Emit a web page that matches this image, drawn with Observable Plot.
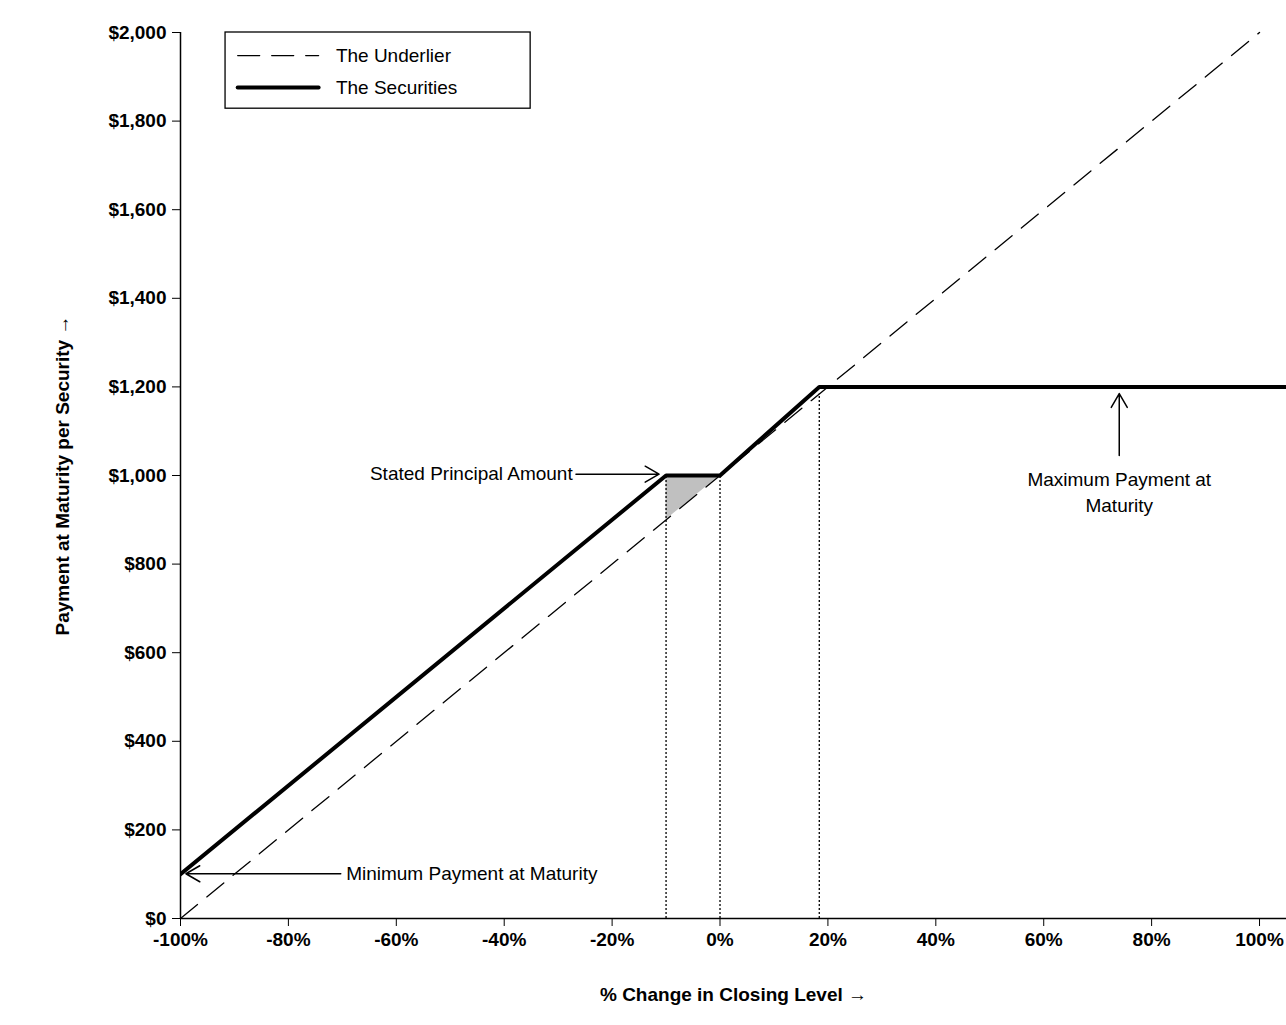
<!DOCTYPE html>
<html><head><meta charset="utf-8">
<script src="https://cdn.jsdelivr.net/npm/d3@7"></script>
<script src="https://cdn.jsdelivr.net/npm/@observablehq/plot@0.6"></script>
<style>body{margin:0;background:#fff}</style>
</head><body><div id="c"></div>
<script>
const xTicks = [-100,-80,-60,-40,-20,0,20,40,60,80,100];
const yTicks = [0,200,400,600,800,1000,1200,1400,1600,1800,2000];
const underlierX = [-100, 100];
const underlierY = [0, 2000];
const securitiesX = [-100, -10, 0, 18.4, 105];
const securitiesY = [100, 1000, 1000, 1200, 1200];
const shadeX = [-10, 0];
const shadeLow = [900, 1000];
const shadeHigh = [1000, 1000];
const dottedX = [-10, 0, 18.4];
const dottedY = [1000, 1000, 1184];

const und = underlierX.map((x,i)=>({x,y:underlierY[i]}));
const sec = securitiesX.map((x,i)=>({x,y:securitiesY[i]}));
const shade = shadeX.map((x,i)=>({x,lo:shadeLow[i],hi:shadeHigh[i]}));
const dots = dottedX.map((x,i)=>({x,y:dottedY[i]}));
const F = "Liberation Sans, Arial, sans-serif";

const chart = Plot.plot({
  width:1286, height:1025,
  marginLeft:180, marginRight:0, marginTop:32, marginBottom:107,
  style:{fontFamily:F, fontSize:"19px", fontWeight:"bold", color:"#000", background:"#fff"},
  x:{domain:[-100,105], ticks:xTicks, tickFormat:d=>d+"%", tickSize:8, tickPadding:6, label:"% Change in Closing Level", labelAnchor:"center", labelOffset:82},
  y:{domain:[0,2000], ticks:yTicks, tickFormat:d=>"$"+d3.format(",")(d), tickSize:8, tickPadding:6, label:"Payment at Maturity per Security", labelAnchor:"center", labelOffset:125},
  marks:[
    Plot.areaY(shade,{x:"x",y1:"lo",y2:"hi",fill:"#c0c0c0"}),
    Plot.ruleX(dots,{x:"x",y1:0,y2:"y",stroke:"#000",strokeWidth:1.3,strokeDasharray:"2,2"}),
    Plot.line(und,{x:"x",y:"y",stroke:"#000",strokeWidth:1.3,strokeDasharray:"22,12"}),
    Plot.line(sec,{x:"x",y:"y",stroke:"#000",strokeWidth:4,clip:true}),
    Plot.ruleX([-100],{stroke:"#000",strokeWidth:1.5}),
    Plot.ruleY([0],{stroke:"#000",strokeWidth:1.5}),
    Plot.arrow([{a:-26.7,b:-11.3,y:1003}],{x1:"a",x2:"b",y1:"y",y2:"y",stroke:"#000",strokeWidth:1.5,headLength:16}),
    Plot.text(["Stated Principal Amount"],{x:-27.3,y:1003,textAnchor:"end",fontWeight:"normal",fontSize:19}),
    Plot.arrow([{a:-70.3,b:-99,y:101}],{x1:"a",x2:"b",y1:"y",y2:"y",stroke:"#000",strokeWidth:1.5,headLength:16}),
    Plot.text(["Minimum Payment at Maturity"],{x:-69.3,y:101,textAnchor:"start",fontWeight:"normal",fontSize:19}),
    Plot.arrow([{x:74,a:1045,b:1185}],{x1:"x",x2:"x",y1:"a",y2:"b",stroke:"#000",strokeWidth:1.5,headLength:16}),
    Plot.text(["Maximum Payment at\nMaturity"],{x:74,y:966,lineHeight:1.35,fontWeight:"normal",fontSize:19}),
    Plot.rect([{a:-91.65,b:-35.1,c:1828,d:2000}],{x1:"a",x2:"b",y1:"c",y2:"d",fill:"#fff",stroke:"#000",strokeWidth:1.3}),
    Plot.line([{x:-89.4,y:1948},{x:-74.4,y:1948}],{x:"x",y:"y",stroke:"#000",strokeWidth:1.3,strokeDasharray:"22,12"}),
    Plot.line([{x:-89.4,y:1876},{x:-74.4,y:1876}],{x:"x",y:"y",stroke:"#000",strokeWidth:4}),
    Plot.text(["The Underlier","The Securities"],{x:-71.2,y:[1948,1876],textAnchor:"start",fontWeight:"normal",fontSize:19})
  ]
});
document.getElementById("c").appendChild(chart);
</script></body></html>
